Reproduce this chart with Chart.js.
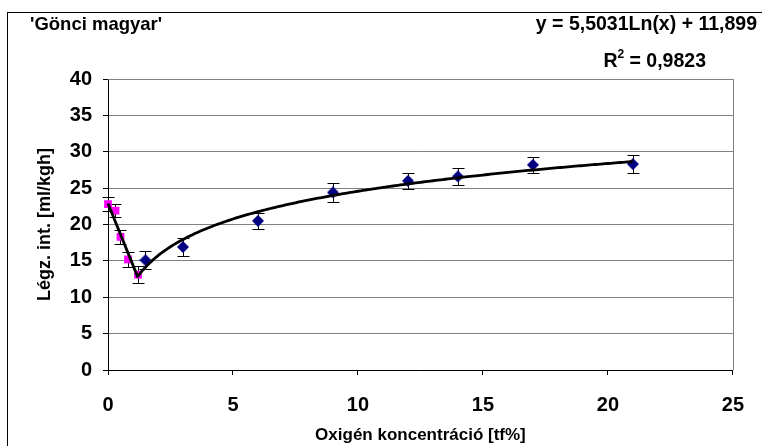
<!DOCTYPE html>
<html>
<head>
<meta charset="utf-8">
<script src="https://cdn.jsdelivr.net/npm/chart.js@4.4.1/dist/chart.umd.min.js"></script>
<style>
  html, body { margin: 0; padding: 0; background: #fff; }
  #wrap { width: 762px; height: 446px; position: relative; }
</style>
</head>
<body>
<div id="wrap"><canvas id="respChart"></canvas></div>
<script>
// low oxygen range (magenta squares)
const lowO2 = [0, 0.3, 0.5, 0.8, 1.2];
const lowResp = [22.8, 21.9, 18.3, 15.2, 13.1];
const lowErr = [1.0, 0.9, 1.0, 1.0, 1.2];

// higher oxygen range (blue diamonds)
const highO2 = [1.5, 3, 6, 9, 12, 14, 17, 21];
const highResp = [15.1, 16.9, 20.5, 24.4, 26.0, 26.6, 28.2, 28.3];
const highErr = [1.2, 1.2, 1.1, 1.3, 1.1, 1.2, 1.1, 1.2];

// straight line through the low range, endpoints
const linX = [0, 1.2];
const linY = [22.9, 12.7];

// log trend shown in the chart: y = 5,5031Ln(x) + 11,899
const logA = 5.5031;
const logB = 11.899;
const logXFrom = 1.2;
const logXTo = 21;

const xTicks = [0, 5, 10, 15, 20, 25];
const yTicks = [0, 5, 10, 15, 20, 25, 30, 35, 40];

const FONT = "'Liberation Sans', Arial, sans-serif";

function pts(xs, ys) {
    return xs.map(function (x, i) { return { x: x, y: ys[i] }; });
}

const logPts = [];
for (let x = logXFrom; x <= logXTo + 1e-9; x += 0.1) {
    logPts.push({ x: x, y: logA * Math.log(x) + logB });
}

// diamond marker for the blue series
function diamond(size, color) {
    const c = document.createElement("canvas");
    c.width = size; c.height = size;
    const g = c.getContext("2d");
    g.fillStyle = color;
    g.beginPath();
    g.moveTo(size / 2, 0);
    g.lineTo(size, size / 2);
    g.lineTo(size / 2, size);
    g.lineTo(0, size / 2);
    g.closePath();
    g.fill();
    return c;
}

const errorBars = {
    id: "errorBars",
    beforeDatasetsDraw(chart) {
        const ctx = chart.ctx;
        const xs = chart.scales.x, ys = chart.scales.y;
        ctx.save();
        ctx.strokeStyle = "#000";
        ctx.lineWidth = 1;
        chart.data.datasets.forEach(function (ds) {
            if (!ds.err) return;
            ds.data.forEach(function (p, i) {
                const px = Math.round(xs.getPixelForValue(p.x)) + 0.5;
                const top = Math.round(ys.getPixelForValue(p.y + ds.err[i])) + 0.5;
                const bot = Math.round(ys.getPixelForValue(p.y - ds.err[i])) + 0.5;
                ctx.beginPath();
                ctx.moveTo(px, top); ctx.lineTo(px, bot);
                ctx.moveTo(px - 6, top); ctx.lineTo(px + 6, top);
                ctx.moveTo(px - 6, bot); ctx.lineTo(px + 6, bot);
                ctx.stroke();
            });
        });
        ctx.restore();
    }
};

const frameAndText = {
    id: "frameAndText",
    beforeDraw(chart) {
        const ctx = chart.ctx;
        ctx.save();
        ctx.fillStyle = "#fff";
        ctx.fillRect(0, 0, chart.width, chart.height);
        ctx.strokeStyle = "#000";
        ctx.lineWidth = 1;
        ctx.strokeRect(7.5, 12.5, 800, 500);
        ctx.restore();
    },
    afterDraw(chart) {
        const ctx = chart.ctx;
        const a = chart.chartArea;
        ctx.save();
        // plot area border (top/right)
        ctx.strokeStyle = "#808080";
        ctx.lineWidth = 1;
        ctx.beginPath();
        ctx.moveTo(a.left, Math.round(a.top) + 0.5);
        ctx.lineTo(Math.round(a.right) + 0.5, Math.round(a.top) + 0.5);
        ctx.lineTo(Math.round(a.right) + 0.5, a.bottom);
        ctx.stroke();

        ctx.fillStyle = "#000";
        ctx.textBaseline = "middle";
        ctx.font = "bold 18.5px " + FONT;
        ctx.textAlign = "left";
        ctx.fillText("'Gönci magyar'", 30, 25);
        ctx.font = "bold 19.5px " + FONT;
        ctx.textAlign = "right";
        ctx.fillText("y = 5,5031Ln(x) + 11,899", 757, 25);

        // R² line
        const rest = " = 0,9823";
        const right = 706;
        const wRest = ctx.measureText(rest).width;
        ctx.fillText(rest, right, 62);
        ctx.font = "bold 12px " + FONT;
        const w2 = ctx.measureText("2").width;
        ctx.fillText("2", right - wRest, 55);
        ctx.font = "bold 19.5px " + FONT;
        ctx.fillText("R", right - wRest - w2, 62);
        ctx.restore();
    }
};

new Chart(document.getElementById("respChart"), {
    type: "scatter",
    data: {
        datasets: [
            {
                label: "log trend",
                data: logPts,
                showLine: true,
                borderColor: "#000",
                borderWidth: 2.8,
                pointRadius: 0,
                tension: 0,
                order: 0
            },
            {
                label: "linear",
                data: pts(linX, linY),
                showLine: true,
                borderColor: "#000",
                borderWidth: 2.8,
                pointRadius: 0,
                clip: false,
                order: 0
            },
            {
                label: "high",
                data: pts(highO2, highResp),
                err: highErr,
                pointStyle: diamond(12, "#000080"),
                clip: false,
                order: 1
            },
            {
                label: "low",
                data: pts(lowO2, lowResp),
                err: lowErr,
                pointStyle: "rect",
                pointRadius: 5.5,
                backgroundColor: "#ff00ff",
                borderColor: "#ff00ff",
                borderWidth: 0,
                clip: false,
                order: 2
            }
        ]
    },
    options: {
        responsive: true,
        maintainAspectRatio: false,
        animation: false,
        events: [],
        layout: { padding: { top: 79, right: 29, left: 0, bottom: 0 } },
        plugins: {
            legend: { display: false },
            tooltip: { enabled: false }
        },
        scales: {
            x: {
                type: "linear",
                min: 0,
                max: 25,
                afterBuildTicks: function (s) { s.ticks = xTicks.map(function (v) { return { value: v }; }); },
                afterFit: function (s) { s.height = 76; },
                border: { display: true, color: "#000", width: 1 },
                grid: { display: true, drawOnChartArea: false, drawTicks: true, tickLength: 5, tickColor: "#000" },
                ticks: { color: "#000", padding: 18, maxRotation: 0, font: { family: FONT, size: 20, weight: "bold" } },
                title: {
                    display: true,
                    text: "Oxigén koncentráció [tf%]",
                    color: "#000",
                    padding: { top: 0, bottom: 0 },
                    font: { family: FONT, size: 17, weight: "bold" }
                }
            },
            y: {
                min: 0,
                max: 40,
                afterBuildTicks: function (s) { s.ticks = yTicks.map(function (v) { return { value: v }; }); },
                afterFit: function (s) { s.width = 108; },
                border: { display: true, color: "#000", width: 1 },
                grid: { color: "#808080", drawTicks: true, tickLength: 5, tickColor: "#000" },
                ticks: { color: "#000", padding: 11, font: { family: FONT, size: 20, weight: "bold" } },
                title: {
                    display: true,
                    text: "Légz. int. [ml/kgh]",
                    color: "#000",
                    padding: { top: 34, bottom: 0 },
                    font: { family: FONT, size: 18, weight: "bold" }
                }
            }
        }
    },
    plugins: [errorBars, frameAndText]
});
</script>
</body>
</html>
